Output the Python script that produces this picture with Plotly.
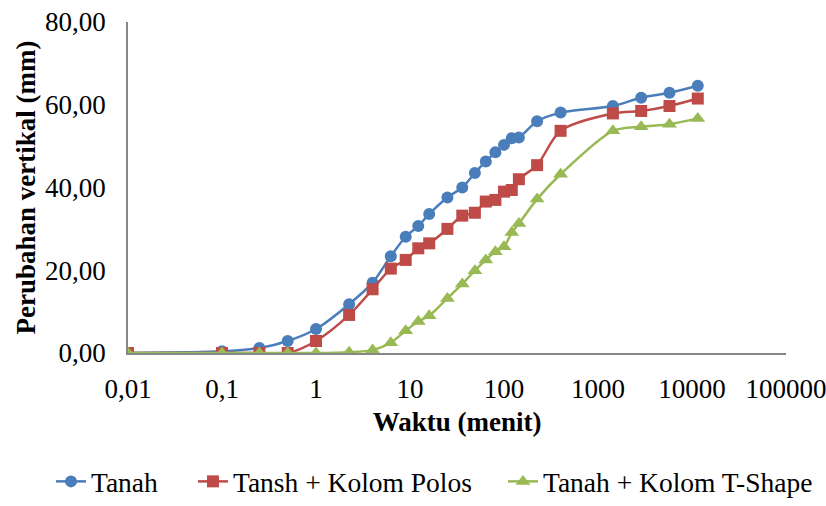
import plotly.graph_objects as go

# Time (minutes)
waktu = [0.01, 0.1, 0.25, 0.5, 1, 2.25, 4, 6.25, 9, 12.25, 16, 25, 36, 49, 64, 81,
         100, 121, 144, 225, 400, 1440, 2880, 5760, 11520]

tanah = [0.0, 0.4, 1.2, 2.9, 5.8, 11.8, 17.0, 23.4, 28.1, 30.7, 33.6, 37.6, 40.0,
         43.5, 46.3, 48.5, 50.3, 51.9, 52.1, 56.0, 58.1, 59.7, 61.7, 62.9, 64.6]

tansh_polos = [0.0, 0.0, 0.0, 0.0, 2.9, 9.2, 15.4, 20.4, 22.5, 25.3, 26.5, 30.0, 33.2,
               33.9, 36.6, 37.0, 39.0, 39.4, 42.0, 45.4, 53.7, 57.9, 58.5, 59.7, 61.5]

tanah_tshape = [0.0, 0.0, 0.0, 0.0, 0.0, 0.2, 0.7, 2.5, 5.4, 7.6, 9.0, 13.2, 16.7,
                19.9, 22.5, 24.5, 25.7, 29.1, 31.3, 37.2, 43.2, 53.7, 54.7, 55.3, 56.7]

series_names = ["Tanah", "Tansh + Kolom Polos", "Tanah + Kolom T-Shape"]

x_tickvals = [0.01, 0.1, 1, 10, 100, 1000, 10000, 100000]
x_ticktext = ["0,01", "0,1", "1", "10", "100", "1000", "10000", "100000"]
y_tickvals = [0, 20, 40, 60, 80]
y_ticktext = ["0,00", "20,00", "40,00", "60,00", "80,00"]

colors = ["#4A7EBB", "#BE4B48", "#98B954"]
symbols = ["circle", "square", "triangle-up"]
sizes = [12, 12, 13]
legend_ids = ["legend", "legend2", "legend3"]
legend_x = [51 / 826, 193 / 826, 503 / 826]

font = "Liberation Serif"
fs = 27

fig = go.Figure()
for name, ys, c, s, sz, lg in zip(series_names, [tanah, tansh_polos, tanah_tshape],
                                  colors, symbols, sizes, legend_ids):
    fig.add_trace(go.Scatter(
        x=waktu, y=ys, name=name, mode="lines+markers", legend=lg,
        line=dict(color=c, width=2.5, shape="spline", smoothing=0.8),
        marker=dict(color=c, symbol=s, size=sz),
    ))

legend_style = dict(orientation="h", xref="container", xanchor="left",
                    yref="container", y=0.0, yanchor="bottom",
                    font=dict(family=font, size=27.5, color="black"), itemwidth=30,
                    bgcolor="rgba(0,0,0,0)")

fig.update_layout(
    width=826, height=506,
    margin=dict(l=128, r=40, t=22, b=153, autoexpand=False),
    paper_bgcolor="white", plot_bgcolor="white",
    font=dict(family=font, size=fs, color="black"),
    showlegend=True,
    legend=dict(x=legend_x[0], **legend_style),
    legend2=dict(x=legend_x[1], **legend_style),
    legend3=dict(x=legend_x[2], **legend_style),
    xaxis=dict(type="log", range=[-2, 5], tickvals=x_tickvals, ticktext=x_ticktext,
               showgrid=False, zeroline=False, showline=True, linecolor="#868686",
               linewidth=1.5, ticks="outside", ticklen=0, ticklabelstandoff=11,
               ticklabeloverflow="allow", automargin=False,
               tickfont=dict(family=font, size=fs),
               title=dict(text="<b>Waktu (menit)</b>", font=dict(family=font, size=fs), standoff=9)),
    yaxis=dict(range=[0, 80], tickvals=y_tickvals, ticktext=y_ticktext,
               showgrid=False, zeroline=False, showline=True, linecolor="#868686",
               linewidth=1.5, ticks="outside", ticklen=0, ticklabelstandoff=15,
               ticklabeloverflow="allow", automargin=False,
               tickfont=dict(family=font, size=fs),
               title=dict(text="<b>Perubahan vertikal (mm)</b>", font=dict(family=font, size=fs), standoff=2)),
)

fig.write_html("out.html")
